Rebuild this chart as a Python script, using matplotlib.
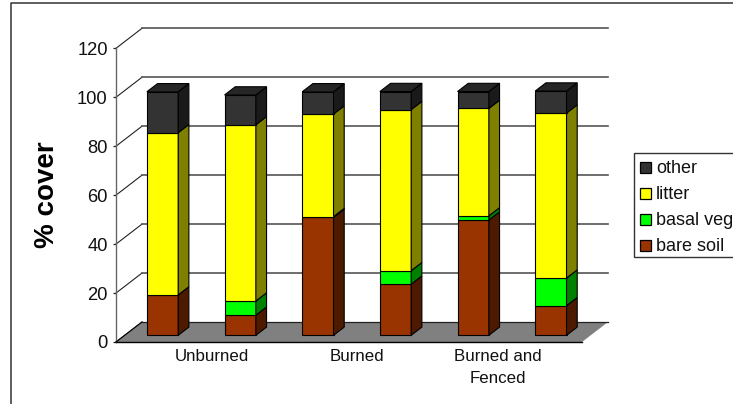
import matplotlib
matplotlib.use('Agg')
import matplotlib.pyplot as plt
from matplotlib.lines import Line2D
from matplotlib.patches import Polygon, Rectangle

plt.rcParams['font.family'] = ['Liberation Sans', 'DejaVu Sans']

# Data
series_names = ['bare soil', 'basal veg', 'litter', 'other']
bare_soil = [16.5, 8.2, 48.2, 20.9, 47.1, 12.1]
basal_veg = [0, 5.8, 0.3, 5.5, 1.7, 11.3]
litter = [66.3, 72.0, 41.9, 65.8, 43.9, 67.4]
other = [16.7, 12.2, 9.1, 7.4, 6.9, 9.0]
y_ticks = [0, 20, 40, 60, 80, 100, 120]
group_labels = ['Unburned', 'Burned', 'Burned and\nFenced']

front_colors = ['#993300', '#00ff00', '#ffff00', '#333333']
side_colors = ['#4d1a00', '#008000', '#808000', '#1a1a1a']
top_color = '#262626'

W, H = 733, 404
fig = plt.figure(figsize=(W / 100, H / 100), dpi=100)
ax = fig.add_axes([116 / W, 1 - 342 / H, 466 / W, 293.7 / H])
ax.set_xlim(0, 6)
ax.set_ylim(0, 120)
ax.patch.set_alpha(0)

# 3D look: depth offsets in data units
wall_dx, wall_dy = 26 / 77.67, 20 / 2.4475
bar_x0, bar_y0 = 7.7 / 77.67, 6.7 / 2.4475
bar_dx, bar_dy = 10.7 / 77.67, 8.2 / 2.4475
bar_w = 31.3 / 77.67

# walls and floor
for t in y_ticks:
    ax.plot([0, wall_dx], [t, t + wall_dy], color='#222222', lw=0.8, clip_on=False, zorder=1)
    if t > 0:
        ax.plot([wall_dx, 6 + wall_dx], [t + wall_dy, t + wall_dy], color='#555555', lw=1.2,
                clip_on=False, zorder=1)
ax.add_patch(Polygon([(0, 0), (6, 0), (6 + wall_dx, wall_dy), (wall_dx, wall_dy)], closed=True,
                     facecolor='#808080', edgecolor='none', clip_on=False, zorder=2))
ax.plot([0, 6], [0, 0], color='black', lw=1.0, clip_on=False, zorder=3)
ax.plot([wall_dx, 6 + wall_dx], [wall_dy, wall_dy], color='#222222', lw=0.9, clip_on=False, zorder=2)
ax.plot([0, wall_dx], [0, wall_dy], color='black', lw=0.8, clip_on=False, zorder=3)

# stacked bars
for i in range(6):
    x = i + 0.5 + bar_x0
    bottom = bar_y0
    for k, vals in enumerate([bare_soil, basal_veg, litter, other]):
        v = vals[i]
        if v == 0:
            continue
        ax.bar(x, v, width=bar_w, bottom=bottom, color=front_colors[k], edgecolor='black',
               linewidth=0.8, clip_on=False, zorder=4)
        r = x + bar_w / 2
        ax.add_patch(Polygon([(r, bottom), (r + bar_dx, bottom + bar_dy),
                              (r + bar_dx, bottom + v + bar_dy), (r, bottom + v)], closed=True,
                             facecolor=side_colors[k], edgecolor='black', linewidth=0.8,
                             clip_on=False, zorder=4))
        bottom += v
    l = x - bar_w / 2
    ax.add_patch(Polygon([(l, bottom), (l + bar_w, bottom), (l + bar_w + bar_dx, bottom + bar_dy),
                          (l + bar_dx, bottom + bar_dy)], closed=True, facecolor=top_color,
                         edgecolor='black', linewidth=0.8, clip_on=False, zorder=4))

# axes
for s in ['top', 'right', 'bottom']:
    ax.spines[s].set_visible(False)
ax.spines['left'].set_color('#666666')
ax.spines['left'].set_linewidth(1.0)
ax.set_yticks(y_ticks)
ax.tick_params(axis='y', length=2.5, width=0.9, color='#222222', pad=3.5, labelsize=13.2, labelcolor='#111111')
ax.set_xticks([1.236, 3.10, 4.92], group_labels)
ax.tick_params(axis='x', length=0, pad=5, labelsize=12.2, labelcolor='#111111')
for lab in ax.get_xticklabels():
    lab.set_linespacing(1.6)
fig.text(47.5 / W, 1 - 195 / H, '% cover', rotation=90, fontsize=20, fontweight='bold',
         ha='center', va='center', color='black')

# chart frame
fig.add_artist(Line2D([10.5 / W, 10.5 / W, 1], [0, 1 - 3 / H, 1 - 3 / H], color='#333333', lw=1.1))

# legend
fig.add_artist(Rectangle((634 / W, 1 - 257 / H), 110 / W, 104.5 / H, facecolor='white',
                         edgecolor='#333333', linewidth=1.0, transform=fig.transFigure, clip_on=False))
legend_y = [245, 219, 193, 167]
for k, name in enumerate(series_names):
    yc = legend_y[k]
    fig.add_artist(Rectangle((639.5 / W, 1 - (yc + 5.5) / H), 11 / W, 11 / H, facecolor=front_colors[k],
                             edgecolor='black', linewidth=0.9, transform=fig.transFigure))
    fig.text(656 / W, 1 - (yc + 6) / H, name, fontsize=13, ha='left', va='baseline', color='#111111')

fig.savefig('out.png', dpi=100)
